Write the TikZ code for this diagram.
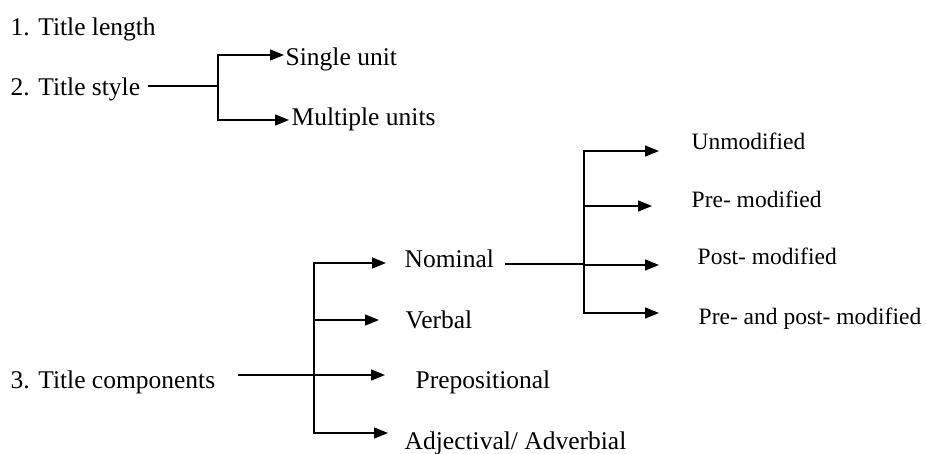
\documentclass[tikz,border=0pt]{standalone}
\usepackage{fontspec}
\setmainfont{Liberation Serif}
\usetikzlibrary{arrows.meta}
\tikzset{
  lbl/.style={anchor=base west, inner sep=0pt, font=\fontsize{25.5}{28}\selectfont},
  sublbl/.style={lbl, font=\fontsize{23.5}{26}\selectfont},
  arr/.style={-{Triangle[length=14pt,width=11pt]}}
}

\begin{document}
\begin{tikzpicture}[x=1pt, y=-1pt, line width=1.4pt]
\useasboundingbox (0,0) rectangle (926,453);
% left column
\node[lbl] (tlength) at (10,35) {1. Title length};
\node[lbl] (tstyle) at (10,95) {2. Title style};
\node[lbl] (tcomp) at (10,388) {3. Title components};
% title style
\node[lbl] (single) at (285,65) {Single unit};
\node[lbl] (multiple) at (291,125) {Multiple units};
\coordinate (sstyle) at (148,86);
\coordinate (jstyle) at (218,86);
\coordinate (tsingle) at (284,55);
\coordinate (tmultiple) at (289,120);
\draw (sstyle) -- (jstyle);
\foreach \t in {tsingle,tmultiple} \draw[arr] (jstyle) |- (\t);
% title components
\node[lbl] (nominal) at (404,267) {Nominal};
\node[lbl] (verbal) at (405,328) {Verbal};
\node[lbl] (prep) at (415,388) {Prepositional};
\node[lbl] (adj) at (404,449) {Adjectival/ Adverbial};
\coordinate (scomp) at (238,375);
\coordinate (jcomp) at (314,375);
\coordinate (tnominal) at (386,263);
\coordinate (tverbal) at (379,320);
\coordinate (tprep) at (385,375);
\coordinate (tadj) at (388,433);
\draw (scomp) -- (jcomp);
\foreach \t in {tnominal,tverbal,tprep,tadj} \draw[arr] (jcomp) |- (\t);
% nominal
\node[sublbl] (unmod) at (691,149) {Unmodified};
\node[sublbl] (premod) at (691,207) {Pre- modified};
\node[sublbl] (postmod) at (697,264) {Post- modified};
\node[sublbl] (prepost) at (698,324) {Pre- and post- modified};
\coordinate (snom) at (505,264);
\coordinate (jnom) at (584,264);
\coordinate (tunmod) at (659,151);
\coordinate (tpremod) at (652,206);
\coordinate (tpostmod) at (659,265);
\coordinate (tprepost) at (659,313);
\draw (snom) -- (jnom);
\foreach \t in {tunmod,tpremod,tpostmod,tprepost} \draw[arr] (jnom) |- (\t);
\end{tikzpicture}
\end{document}
